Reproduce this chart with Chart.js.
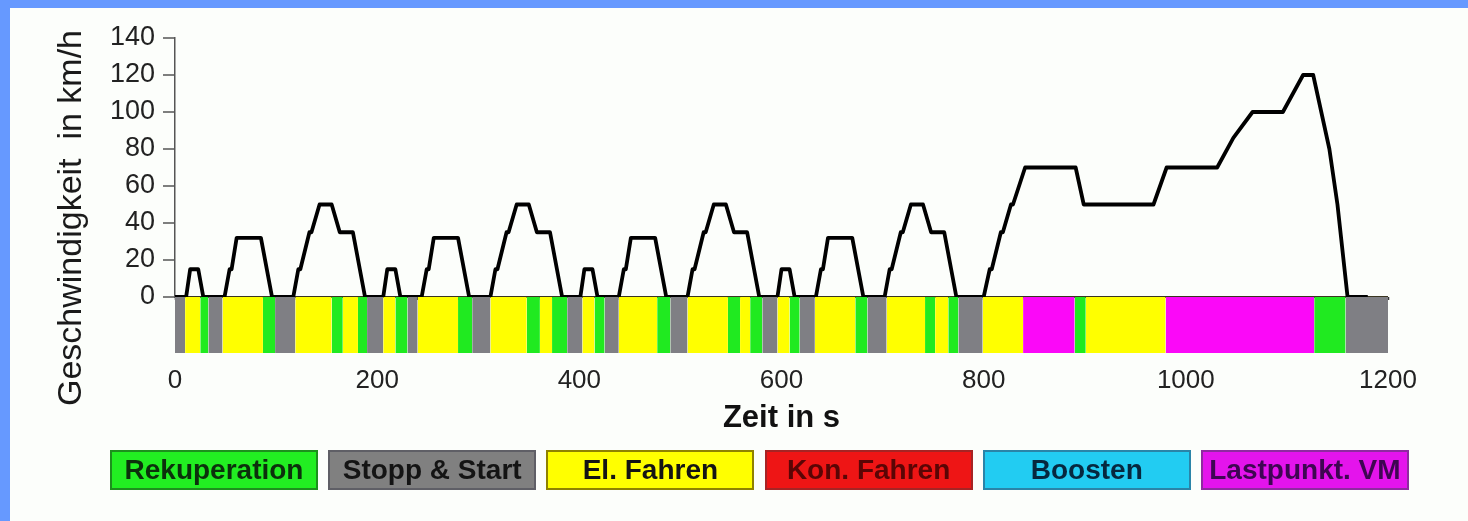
<!DOCTYPE html>
<html><head><meta charset="utf-8">
<script src="https://cdn.jsdelivr.net/npm/chart.js@4"></script>
<style>
html,body{margin:0;padding:0;width:1468px;height:521px;overflow:hidden;background:#6699ff;}
#frame{position:absolute;left:10px;top:8px;width:1458px;height:513px;background:#fcfefb;}
#c{position:absolute;left:0;top:0;width:1458px;height:513px;}
#legend{position:absolute;left:100px;top:442px;display:flex;}
.item{box-sizing:border-box;width:208px;height:40px;margin-right:10.2px;border:2px solid;display:flex;align-items:center;justify-content:center;font:bold 28px "Liberation Sans",Arial,sans-serif;white-space:nowrap;}
</style></head><body>
<div id="frame"><canvas id="c" width="1458" height="513"></canvas><div id="legend"></div></div>
<script>
// ---- data ----
const speedTime = [0,11,15,23,28,49,54,56,61,85,96,117,122,124,133,135,143,155,163,176,188,
  195,206,210,218,223,244,249,251,256,280,291,312,317,319,328,330,338,350,358,371,383,
  390,401,405,413,418,439,444,446,451,475,486,507,512,514,523,525,533,545,553,566,578,
  585,596,600,608,613,634,639,641,646,670,681,702,707,709,718,720,728,740,748,761,773,
  780,800,806,808,817,819,827,829,841,891,899,968,981,1031,1047,1066,1096,1116,1126,1142,1150,1160,1180];
const speedValue = [0,0,15,15,0,0,15,15,32,32,0,0,15,15,35,35,50,50,35,35,0,
  0,0,15,15,0,0,15,15,32,32,0,0,15,15,35,35,50,50,35,35,0,
  0,0,15,15,0,0,15,15,32,32,0,0,15,15,35,35,50,50,35,35,0,
  0,0,15,15,0,0,15,15,32,32,0,0,15,15,35,35,50,50,35,35,0,
  0,0,15,15,35,35,50,50,70,70,50,50,70,70,86,100,100,120,120,80,50,0,0];
const bandEdges = [0,10,25,33,47,87,99,119,155,166,181,190,
  206,218,230,240,280,294,312,348,361,373,388,
  403,415,425,439,477,490,507,547,559,569,581,
  596,608,618,633,673,685,704,742,752,765,775,
  799,839,890,901,980,1127,1158,1200];
const bandModes = [1,2,0,1,2,0,1,2,0,2,0,1,
  2,0,1,2,0,1,2,0,2,0,1,
  2,0,1,2,0,1,2,0,2,0,1,
  2,0,1,2,0,1,2,0,2,0,1,
  2,5,0,2,5,0,1];
const modeNames = ['Rekuperation','Stopp & Start','El. Fahren','Kon. Fahren','Boosten','Lastpunkt. VM'];
const speedTicks = [0,20,40,60,80,100,120,140];
const timeTicks = [0,200,400,600,800,1000,1200];
const yTitle = 'Geschwindigkeit  in km/h';
const xTitle = 'Zeit in s';

// ---- styles ----
const FONT = '"Liberation Sans", Arial, sans-serif';
const bandColors = ['#20ea20','#7f7f84','#ffff00','#ff1010','#22ccf2','#fb08f8'];
const boxColors  = ['#22ee22','#808080','#ffff00','#ee1515','#22ccf2','#e414ec'];
const boxBorders = ['#1d8f1d','#5f5f66','#8f8200','#a62424','#2a84a8','#8f2aa0'];
const boxText    = ['#0c300c','#141414','#141414','#5a0505','#06283f','#3e0652'];

const datasets = [{
  type:'line', label:'Geschwindigkeit',
  data: speedTime.map((t,i)=>({x:t, y:speedValue[i]})),
  xAxisID:'x', yAxisID:'y', borderColor:'#000', borderWidth:3.8,
  pointRadius:0, tension:0, fill:false, order:0, borderJoinStyle:'round'
}];
for (let i=0;i<bandModes.length;i++){
  datasets.push({
    type:'line', label:modeNames[bandModes[i]],
    data:[{x:bandEdges[i],y:1},{x:bandEdges[i+1],y:1}],
    xAxisID:'x', yAxisID:'yBand', borderWidth:0, borderColor:'rgba(0,0,0,0)',
    pointRadius:0, backgroundColor:bandColors[bandModes[i]], fill:'origin', order:1
  });
}

const yTitlePlugin = {
  id:'yTitle',
  afterDraw(chart){
    const {ctx, chartArea} = chart;
    ctx.save();
    ctx.translate(chartArea.left - 103, chartArea.top + 180);
    ctx.rotate(-Math.PI/2);
    ctx.font = '34px ' + FONT;
    ctx.fillStyle = '#1a1a1a';
    ctx.textAlign = 'center';
    ctx.textBaseline = 'middle';
    ctx.fillText(yTitle, 0, 0);
    ctx.restore();
  }
};

new Chart(document.getElementById('c'), {
  type:'line',
  data:{datasets},
  plugins:[yTitlePlugin],
  options:{
    responsive:false, animation:false, devicePixelRatio:1,
    layout:{padding:{left:0, right:80, top:30, bottom:80}},
    plugins:{legend:{display:false}, tooltip:{enabled:false}},
    scales:{
      x:{type:'linear', position:'bottom', min:0, max:1200,
        afterBuildTicks(s){ s.ticks = timeTicks.map(v=>({value:v})); },
        grid:{display:false, drawTicks:false}, border:{display:false},
        ticks:{padding:12, color:'#222', font:{family:FONT, size:26}, maxRotation:0, autoSkip:false,
               callback:v=>String(v)},
        title:{display:true, text:xTitle, color:'#111', font:{family:FONT, size:31, weight:'bold'}, padding:{top:0, bottom:4}},
        afterFit(s){ s.height = 88; }
      },
      xMinor:{type:'linear', position:{y:0}, min:0, max:1200, z:1,
        ticks:{display:false, stepSize:40, autoSkip:false},
        grid:{drawOnChartArea:false, drawTicks:true, tickLength:3, tickColor:'#333', tickWidth:1.5},
        border:{display:false}
      },
      y:{type:'linear', position:'left', stack:'left', stackWeight:259, weight:1, min:0, max:140, z:1,
        afterBuildTicks(s){ s.ticks = speedTicks.map(v=>({value:v})); },
        ticks:{color:'#222', font:{family:FONT, size:27}, padding:8, autoSkip:false, callback:v=>String(v)},
        grid:{color:c=> (c.tick && c.tick.value===0) ? '#3a3520' : 'rgba(0,0,0,0)',
              lineWidth:c=> (c.tick && c.tick.value===0) ? 2 : 0,
              tickColor:'#555', tickWidth:1.5, tickLength:12, drawTicks:true},
        border:{display:true, color:'#555', width:1.5},
        afterFit(s){ s.width = 165; }
      },
      yBand:{type:'linear', position:'left', stack:'left', stackWeight:56, weight:0, min:0, max:1,
        ticks:{display:false}, grid:{display:false}, border:{display:false},
        afterFit(s){ s.width = 0; }
      }
    }
  }
});

// ---- legend ----
const lg = document.getElementById('legend');
modeNames.forEach((n,i)=>{
  const d = document.createElement('div');
  d.className = 'item';
  d.textContent = n;
  d.style.background = boxColors[i];
  d.style.borderColor = boxBorders[i];
  d.style.color = boxText[i];
  lg.appendChild(d);
});
</script>
</body></html>
